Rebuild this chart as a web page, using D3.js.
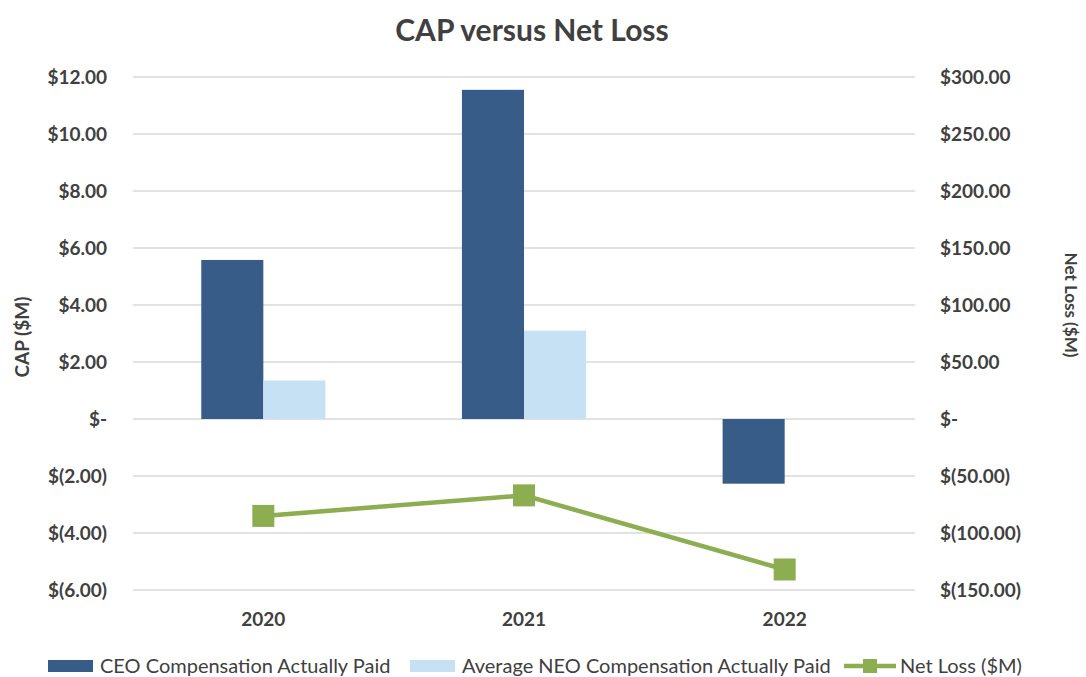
<!DOCTYPE html>
<html>
<head>
<meta charset="utf-8">
<script src="https://cdn.jsdelivr.net/npm/d3@7"></script>
<style>
  body { margin: 0; background: #fff; }
  text { font-family: Lato, "Open Sans", sans-serif; fill: #404040; }
</style>
</head>
<body>
<div id="chart"></div>
<script>
const years = ["2020", "2021", "2022"];
const ceoCap = [5.58, 11.55, -2.27];
const neoCap = [1.35, 3.1, 0];
const netLoss = [-85, -67, -132];
const leftTicks = [12, 10, 8, 6, 4, 2, 0, -2, -4, -6];
const rightTicks = [300, 250, 200, 150, 100, 50, 0, -50, -100, -150];

const width = 1086;
const height = 677;
const margin = { top: 77, bottom: 87, left: 133, right: 171 };

const svg = d3.select('#chart')
  .append('svg')
  .attr('width', width)
  .attr('height', height);

const x = d3.scaleBand()
  .domain(years)
  .range([margin.left, width - margin.right]);

const xs = d3.scaleBand()
  .domain(["ceo", "neo"])
  .range([0, x.bandwidth()])
  .paddingOuter(1.1);

const y = d3.scaleLinear()
  .domain([-6, 12])
  .range([height - margin.bottom, margin.top]);

const y2 = d3.scaleLinear()
  .domain([-150, 300])
  .range([height - margin.bottom, margin.top]);

const money = (v, dec) => {
  if (v === 0) return "$-";
  const s = Math.abs(v).toFixed(dec);
  return v < 0 ? `$(${s})` : `$${s}`;
};

// gridlines
svg.append("g")
  .selectAll("line")
  .data(leftTicks)
  .join("line")
    .attr("x1", margin.left)
    .attr("x2", width - margin.right)
    .attr("y1", d => y(d))
    .attr("y2", d => y(d))
    .attr("stroke", "#d9d9d9")
    .attr("stroke-width", 1.5);

// left axis labels
svg.append("g")
  .selectAll("text")
  .data(leftTicks)
  .join("text")
    .attr("x", 107)
    .attr("y", d => y(d))
    .attr("dy", "0.35em")
    .attr("text-anchor", "end")
    .attr("font-size", "19px")
    .attr("font-weight", "bold")
    .text(d => money(d, 2));

// right axis labels
svg.append("g")
  .selectAll("text")
  .data(rightTicks)
  .join("text")
    .attr("x", 940)
    .attr("y", d => y2(d))
    .attr("dy", "0.35em")
    .attr("text-anchor", "start")
    .attr("font-size", "19px")
    .attr("font-weight", "bold")
    .text(d => money(d, 2));

// bars
const series = [
  { key: "ceo", values: ceoCap, color: "#375c88" },
  { key: "neo", values: neoCap, color: "#c6e1f4" }
];

series.forEach(s => {
  svg.append("g")
    .attr("fill", s.color)
    .selectAll("rect")
    .data(years)
    .join("rect")
      .attr("x", (d, i) => x(d) + xs(s.key))
      .attr("y", (d, i) => y(Math.max(0, s.values[i])))
      .attr("width", xs.bandwidth())
      .attr("height", (d, i) => Math.abs(y(s.values[i]) - y(0)));
});

// net loss line
const line = d3.line()
  .x((d, i) => x(years[i]) + x.bandwidth() / 2)
  .y(d => y2(d));

svg.append("path")
  .datum(netLoss)
  .attr("fill", "none")
  .attr("stroke", "#8cad50")
  .attr("stroke-width", 4.5)
  .attr("d", line);

svg.append("g")
  .attr("fill", "#8cad50")
  .selectAll("rect")
  .data(netLoss)
  .join("rect")
    .attr("x", (d, i) => x(years[i]) + x.bandwidth() / 2 - 11)
    .attr("y", d => y2(d) - 11)
    .attr("width", 22)
    .attr("height", 22);

// x labels
svg.append("g")
  .selectAll("text")
  .data(years)
  .join("text")
    .attr("x", d => x(d) + x.bandwidth() / 2)
    .attr("y", 619)
    .attr("dy", "0.35em")
    .attr("text-anchor", "middle")
    .attr("font-size", "19px")
    .attr("font-weight", "bold")
    .text(d => d);

// title
svg.append("text")
  .attr("x", 532)
  .attr("y", 30)
  .attr("dy", "0.35em")
  .attr("text-anchor", "middle")
  .attr("font-size", "30px")
  .attr("font-weight", "bold")
  .text("CAP versus Net Loss");

// axis titles
svg.append("text")
  .attr("transform", "translate(22,337) rotate(-90)")
  .attr("dy", "0.35em")
  .attr("text-anchor", "middle")
  .attr("font-size", "19px")
  .attr("font-weight", "bold")
  .text("CAP  ($M)");

svg.append("text")
  .attr("transform", "translate(1071,305) rotate(90)")
  .attr("dy", "0.35em")
  .attr("text-anchor", "middle")
  .attr("font-size", "17px")
  .attr("font-weight", "bold")
  .text("Net Loss ($M)");

// legend
const legendY = 666;
const legend = [
  { label: "CEO Compensation Actually Paid", color: "#375c88", x: 48, type: "bar" },
  { label: "Average NEO Compensation Actually Paid", color: "#c6e1f4", x: 410, type: "bar" },
  { label: "Net Loss ($M)", color: "#8cad50", x: 844, type: "line" }
];

const lg = svg.append("g")
  .selectAll("g")
  .data(legend)
  .join("g")
    .attr("transform", d => `translate(${d.x},${legendY})`);

lg.filter(d => d.type === "bar")
  .append("rect")
    .attr("y", -6)
    .attr("width", 45)
    .attr("height", 12)
    .attr("fill", d => d.color);

lg.filter(d => d.type === "line")
  .append("line")
    .attr("x2", 52)
    .attr("stroke", d => d.color)
    .attr("stroke-width", 4.5);

lg.filter(d => d.type === "line")
  .append("rect")
    .attr("x", 19)
    .attr("y", -7)
    .attr("width", 14)
    .attr("height", 14)
    .attr("fill", d => d.color);

lg.append("text")
  .attr("x", d => d.type === "bar" ? 52 : 56)
  .attr("dy", "0.35em")
  .attr("font-size", "20px")
  .text(d => d.label);
</script>
</body>
</html>
